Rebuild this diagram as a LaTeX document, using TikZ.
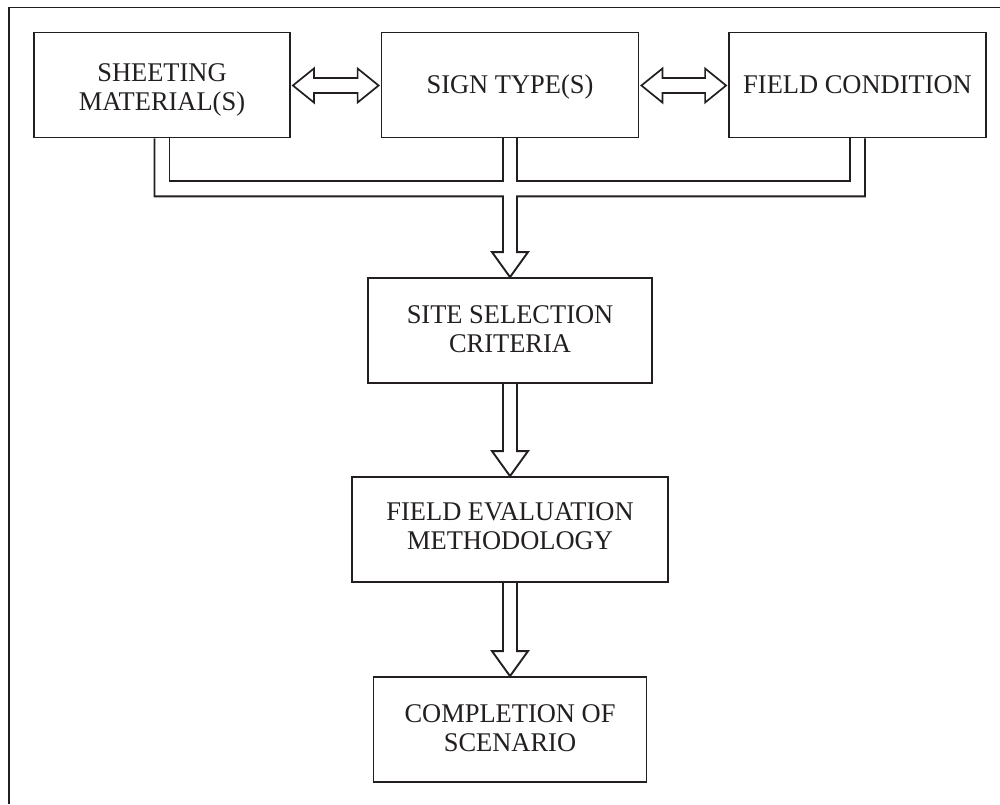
\documentclass[tikz,border=0pt]{standalone}
\usepackage{fontspec}
\setmainfont[FakeStretch=0.98]{Liberation Serif}
\usetikzlibrary{calc}
\definecolor{ink}{RGB}{35,31,32}
\newcommand{\boxtext}[2]{\raisebox{-#1}[\height][\depth]{\begin{tabular}{@{}c@{}}#2\end{tabular}}}
\begin{document}
\begin{tikzpicture}[x=1pt,y=-1pt,
  box/.style={draw=ink,line width=1.8pt,rectangle,inner sep=0pt,minimum height=105pt,
    align=center,text=ink,font=\fontsize{27pt}{29pt}\selectfont},
  conn/.style={draw=ink,line width=1.9pt,line join=miter},
  dbl/.style={draw=ink,line width=1.7pt,line join=miter,fill=white}]
\useasboundingbox (0,0) rectangle (1000,804);
\fill[white] (0,0) rectangle (1000,804);
% frame (top and left only)
\draw[ink,line width=1.5pt] (9,804) -- (9,7.5) -- (1000,7.5);

% nodes
\node[box,minimum width=256pt] (sm) at (162,85) {\boxtext{5pt}{SHEETING\\MATERIAL(S)}};
\node[box,minimum width=257pt] (st) at (510,85) {\boxtext{3pt}{SIGN TYPE(S)}};
\node[box,minimum width=257pt] (fc) at (857.5,85) {\boxtext{3pt}{FIELD CONDITION}};
\node[box,minimum width=284pt] (ss) at (510,330.5) {\boxtext{2pt}{SITE SELECTION\\CRITERIA}};
\node[box,minimum width=316pt] (fe) at (510,529.5) {\boxtext{0pt}{FIELD EVALUATION\\METHODOLOGY}};
\node[box,minimum width=273pt] (cs) at (510,729.5) {\boxtext{2pt}{COMPLETION OF\\SCENARIO}};

% horizontal double arrows
\foreach \l/\r in {sm/st,st/fc}{
  \coordinate (tl) at ($(\l.east)+(2,0.5)$);
  \coordinate (tr) at ($(\r.west)+(-2,0.5)$);
  \draw[dbl] (tl) -- ($(tl)+(21,-17)$) -- ($(tl)+(21,-7.5)$) -- ($(tr)+(-21,-7.5)$)
    -- ($(tr)+(-21,-17)$) -- (tr) -- ($(tr)+(-21,17)$) -- ($(tr)+(-21,7.5)$)
    -- ($(tl)+(21,7.5)$) -- ($(tl)+(21,17)$) -- cycle;
}

% merging channel from the three top boxes
\draw[conn] ($(sm.south)+(7.5,0)$) -- ($(sm.south)+(7.5,43)$)
  -- ($(st.south)+(-7,43)$) -- ($(st.south)+(-7,0)$);
\draw[conn] ($(st.south)+(7,0)$) -- ($(st.south)+(7,43)$)
  -- ($(fc.south)+(-7.5,43)$) -- ($(fc.south)+(-7.5,0)$);
\draw[conn] ($(sm.south)+(-7.5,0)$) -- ($(sm.south)+(-7.5,58)$)
  -- ($(st.south)+(-7,58)$) -- ($(ss.north)+(-7,-25)$) -- ($(ss.north)+(-18,-25)$)
  -- (ss.north) -- ($(ss.north)+(18,-25)$) -- ($(ss.north)+(7,-25)$)
  -- ($(st.south)+(7,58)$) -- ($(fc.south)+(7.5,58)$) -- ($(fc.south)+(7.5,0)$);

% vertical hollow arrows
\foreach \a/\b in {ss/fe,fe/cs}{
  \draw[conn] ($(\a.south)+(-7,0)$) -- ($(\b.north)+(-7,-25)$) -- ($(\b.north)+(-18,-25)$)
    -- (\b.north) -- ($(\b.north)+(18,-25)$) -- ($(\b.north)+(7,-25)$) -- ($(\a.south)+(7,0)$);
}
\end{tikzpicture}
\end{document}
